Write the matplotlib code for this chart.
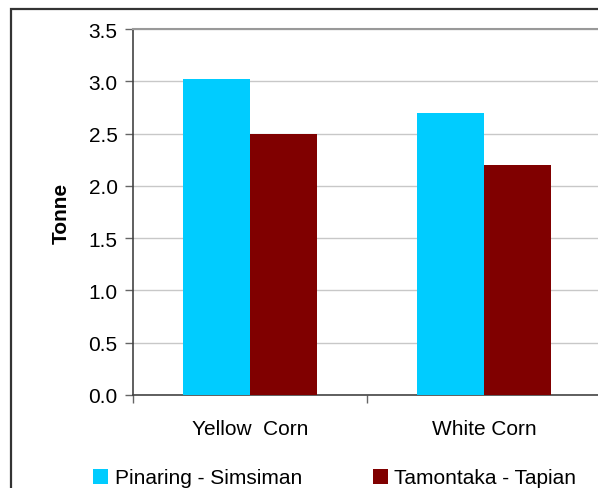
import matplotlib
matplotlib.use("Agg")
import matplotlib.pyplot as plt
from matplotlib.patches import Rectangle
import numpy as np

# Yield per hectare by site
categories = ["Yellow  Corn", "White Corn"]
series_names = ["Pinaring - Simsiman", "Tamontaka - Tapian"]
pinaring = [3.02, 2.70]
tamontaka = [2.50, 2.20]
colors = ["#00CCFF", "#800000"]

plt.rcParams["font.family"] = ["Liberation Sans", "DejaVu Sans"]
FS = 15

W, H = 598, 489
fig = plt.figure(figsize=(W / 100, H / 100), dpi=100)

# outer chart border (runs off the right and bottom edges)
fig.patches.append(Rectangle((11 / W, -0.05), 1.0, 1.05 - 10 / H, transform=fig.transFigure,
                             fill=False, edgecolor="#333333", linewidth=1.6))

# plot area in pixels: left 133, right 601, top 30, bottom 396
ax = fig.add_axes([133 / W, 1 - 396 / H, 468 / W, 366 / H])

x = np.arange(len(categories)) + 0.5
bw = 0.286
ax.bar(x - bw / 2, pinaring, bw, color=colors[0], label=series_names[0], zorder=3)
ax.bar(x + bw / 2, tamontaka, bw, color=colors[1], label=series_names[1], zorder=3)

ax.set_xlim(0, 2)
ax.set_ylim(0, 3.5)
ax.set_yticks(np.arange(0, 3.51, 0.5))
ax.set_yticklabels([f"{v:.1f}" for v in np.arange(0, 3.51, 0.5)])
ax.yaxis.grid(True, color="#C8C8C8", linewidth=1.0, zorder=0)
ax.set_axisbelow(True)

# category labels centred, ticks on the group boundaries
ax.set_xticks([0, 1, 2])
ax.set_xticklabels([])
ax.set_xticks(x, minor=True)
ax.set_xticklabels(categories, minor=True)
ax.tick_params(axis="x", which="minor", length=0, pad=17, labelsize=FS)
ax.tick_params(axis="x", which="major", length=6, color="#666666", width=1)
ax.tick_params(axis="y", length=6, color="#666666", width=1, labelsize=FS, pad=5)

for side in ["top", "right"]:
    ax.spines[side].set_color("#999999")
ax.spines["left"].set_color("#444444")
ax.spines["bottom"].set_color("#444444")
ax.spines["left"].set_linewidth(1.2)
ax.spines["bottom"].set_linewidth(1.2)
ax.spines["top"].set_linewidth(1.5)

ax.set_ylabel("Tonne", fontsize=FS, fontweight="bold", labelpad=13)

leg = ax.legend(loc="center left", bbox_to_anchor=(-48 / 468, -(479 - 396) / 366),
                ncol=2, frameon=False, fontsize=FS, handlelength=0.72, handleheight=0.72,
                handletextpad=0.3, columnspacing=3.4, borderaxespad=0)

fig.savefig("out.png", dpi=100)
